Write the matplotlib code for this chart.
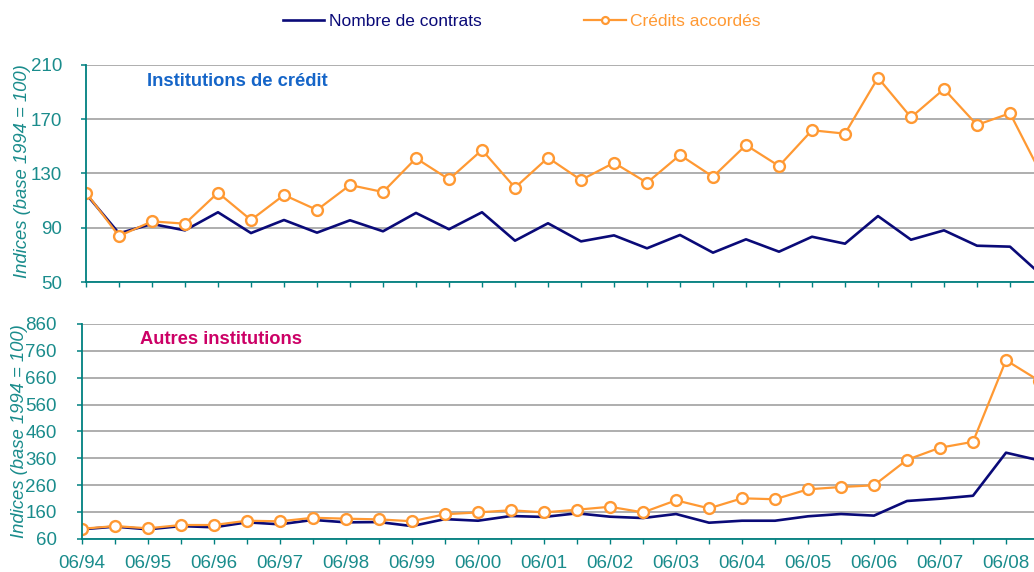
import matplotlib
matplotlib.use("Agg")
import matplotlib.pyplot as plt
import numpy as np

plt.rcParams['font.family'] = ['Liberation Sans', 'DejaVu Sans']

# Half-year periods: 06/94, 12/94, ..., 06/08, 12/08
periods = ["06/94", "12/94", "06/95", "12/95", "06/96", "12/96", "06/97", "12/97",
           "06/98", "12/98", "06/99", "12/99", "06/00", "12/00", "06/01", "12/01",
           "06/02", "12/02", "06/03", "12/03", "06/04", "12/04", "06/05", "12/05",
           "06/06", "12/06", "06/07", "12/07", "06/08", "12/08"]

# Institutions de crédit
ic_contrats = [115, 86, 92.9, 88.2, 101.5, 86.2, 95.8, 86.5, 95.6, 87.5,
               101, 89, 101.5, 80.6, 93.4, 80.1, 84.5, 75, 84.8, 71.8,
               81.6, 72.5, 83.5, 78.4, 98.7, 81.3, 88.2, 76.9, 76.2, 54.3]
ic_credits = [116, 84, 94.8, 93.1, 115.9, 95.8, 114.2, 103.2, 121.5, 116.4,
              141.2, 125.7, 147.3, 119.6, 141.6, 125.2, 137.9, 123.2, 143.6, 127.6,
              150.9, 135.5, 161.8, 159.3, 200.4, 171.3, 192.1, 165.7, 174.3, 127]

# Autres institutions
ai_contrats = [95, 105, 95, 107, 102.5, 121, 113.6, 130, 121, 122,
               107, 133, 127, 144.6, 141, 154.6, 142, 137, 152, 119.6,
               127, 127, 143.5, 152, 146, 200.5, 209, 220, 380.5, 352]
ai_credits = [97, 107, 98.7, 111, 111, 127, 124.8, 138, 134.6, 132,
              125, 151, 158, 166, 158, 168, 179, 158, 203, 173,
              210.5, 207, 244, 252.6, 259, 354, 399, 421, 725, 649]

top_ticks = [50, 90, 130, 170, 210]
bot_ticks = [60, 160, 260, 360, 460, 560, 660, 760, 860]

NAVY = '#0a0a78'
ORANGE = '#ff9933'
TEAL = '#008080'
TEAL_TXT = '#1a8c8c'
GRID = '#a8a8a8'
FS = 13.5

W, H = 1034, 572
fig = plt.figure(figsize=(W / 100, H / 100), dpi=100)

x = np.arange(len(periods))
step = 33.0  # pixels per half-year
xmax = 29.6


def make_ax(left_px, top_px, bottom_px):
    width_px = step * xmax
    return fig.add_axes([left_px / W, 1 - bottom_px / H, width_px / W, (bottom_px - top_px) / H])


def style(ax, ticks, ypad, show_xlabels):
    ax.set_xlim(0, xmax)
    ax.set_ylim(ticks[0], ticks[-1])
    ax.set_yticks(ticks)
    ax.set_xticks(x)
    if show_xlabels:
        ax.set_xticklabels([p if i % 2 == 0 else "" for i, p in enumerate(periods)])
    else:
        ax.set_xticklabels([])
    for s in ['top', 'right']:
        ax.spines[s].set_visible(False)
    for s in ['left', 'bottom']:
        ax.spines[s].set_color(TEAL)
        ax.spines[s].set_linewidth(1.3)
    ax.tick_params(axis='y', length=3.6, width=1.1, color=TEAL, direction='out',
                   pad=ypad, labelsize=FS, labelcolor=TEAL_TXT)
    ax.tick_params(axis='x', length=3.5, width=1.0, color=TEAL, direction='out',
                   pad=8.5, labelsize=FS, labelcolor=TEAL_TXT)
    ax.yaxis.grid(True, color=GRID, linewidth=1.3)
    ax.set_axisbelow(True)


# Top panel
ax1 = make_ax(86, 64.7, 282.3)
style(ax1, top_ticks, 13.7, False)
l1, = ax1.plot(x, ic_contrats, color=NAVY, lw=1.9, label='Nombre de contrats')
l2, = ax1.plot(x, ic_credits, color=ORANGE, lw=1.6, marker='o', ms=7.8, mfc='white',
               mec=ORANGE, mew=1.7, label='Crédits accordés')
fig.text(147 / W, 1 - 82 / H, "Institutions de crédit",
         color='#1565c8', fontsize=13.2, fontweight='bold', va='center', ha='left')

# Bottom panel
ax2 = make_ax(82, 324, 538.7)
style(ax2, bot_ticks, 14.4, True)
ax2.plot(x, ai_contrats, color=NAVY, lw=1.9)
ax2.plot(x, ai_credits, color=ORANGE, lw=1.6, marker='o', ms=7.8, mfc='white',
         mec=ORANGE, mew=1.7)
fig.text(140 / W, 1 - 339 / H, "Autres institutions",
         color='#cc0066', fontsize=13.2, fontweight='bold', va='center', ha='left')

# Y labels
for xc, yc in [(23, 171), (20, 431)]:
    fig.text(xc / W, 1 - yc / H, "Indices (base 1994 = 100)", rotation=90,
             color=TEAL_TXT, fontsize=13.3, style='italic', ha='center', va='center')

# Legend
h2 = plt.Line2D([], [], color=ORANGE, lw=1.6, marker='o', ms=5, mfc='white', mec=ORANGE, mew=1.6)
leg = fig.legend([l1, h2], ['Nombre de contrats', 'Crédits accordés'], loc='center',
                 bbox_to_anchor=(521.5 / W, 1 - 21 / H), ncol=2, frameon=False,
                 fontsize=12.5, handlelength=2.4, handletextpad=0.25, columnspacing=5.9)
for t, c in zip(leg.get_texts(), [NAVY, ORANGE]):
    t.set_color(c)

fig.savefig("out.png", dpi=100)
